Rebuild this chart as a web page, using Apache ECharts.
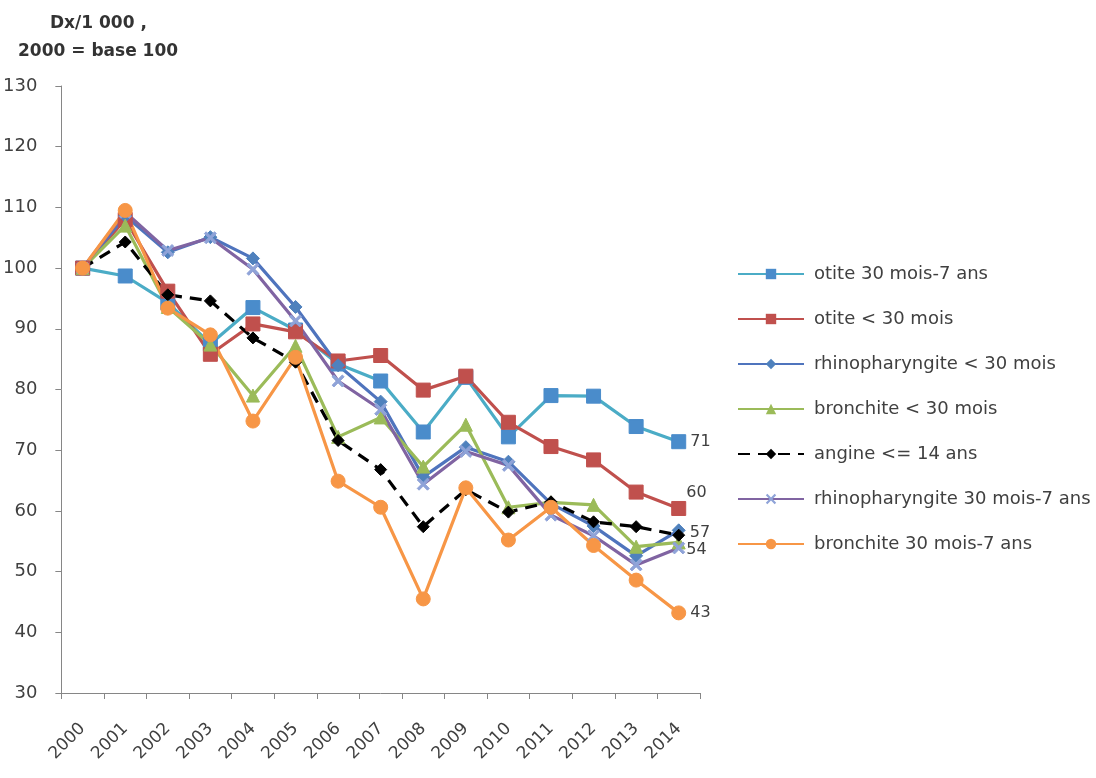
<!DOCTYPE html>
<html>
<head>
<meta charset="utf-8">
<script src="https://cdn.jsdelivr.net/npm/echarts@6/dist/echarts.min.js"></script>
<style>
  html, body { margin: 0; padding: 0; background: #fff; }
  #chart { width: 1096px; height: 778px; }
</style>
</head>
<body>
<div id="chart"></div>
<script>
// Years on the category axis
const years = ['2000','2001','2002','2003','2004','2005','2006','2007','2008','2009','2010','2011','2012','2013','2014'];

// Diagnoses per 1 000, indexed to 2000 = 100
const otite30m7a   = [100, 98.7, 94.3, 87.5, 93.5, 89.8, 84.2, 81.4, 73.0, 82.0, 72.2, 79.0, 78.9, 73.9, 71.4];
const otiteMoins30 = [100, 108.0, 96.2, 85.8, 90.8, 89.5, 84.7, 85.6, 79.9, 82.2, 74.6, 70.6, 68.4, 63.1, 60.4];
const rhinoMoins30 = [100, 108.6, 102.6, 105.1, 101.6, 93.6, 84.0, 78.0, 65.6, 70.5, 68.1, 61.2, 57.5, 52.6, 56.8];
const bronchMoins30 = [100, 107.0, 93.6, 87.4, 79.0, 87.2, 72.2, 75.4, 67.3, 74.2, 60.6, 61.4, 61.0, 54.1, 54.8];
const angine14     = [100, 104.3, 95.6, 94.6, 88.5, 84.5, 71.6, 66.8, 57.4, 63.5, 59.8, 61.5, 58.2, 57.4, 56.0];
const rhino30m7a   = [100, 109.2, 102.9, 105.0, 99.8, 91.3, 81.4, 76.7, 64.4, 69.8, 67.5, 59.3, 55.9, 51.1, 53.9];
const bronch30m7a  = [100, 109.5, 93.4, 89.0, 74.8, 85.3, 64.9, 60.6, 45.5, 63.8, 55.2, 60.6, 54.3, 48.6, 43.2];

// Y axis range and step
const yMin = 30, yMax = 130, yStep = 10;

const textColor = '#404040';
const fontFamily = '"DejaVu Sans", "Liberation Sans", sans-serif';
const crossSymbol = 'path://M0,1.5L1.5,0L5,3.5L8.5,0L10,1.5L6.5,5L10,8.5L8.5,10L5,6.5L1.5,10L0,8.5L3.5,5Z';

// Value label shown only at the last year
function endLabel(offset) {
  return {
    show: true,
    position: 'right',
    distance: 4,
    offset: offset,
    color: textColor,
    fontSize: 16,
    fontFamily: fontFamily,
    formatter: p => (p.dataIndex === years.length - 1 ? String(Math.round(p.value)) : '')
  };
}

function lineSeries(name, data, color, markerColor, symbol, size, opts) {
  return Object.assign({
    name: name,
    type: 'line',
    data: data,
    symbol: symbol,
    symbolSize: size,
    lineStyle: { color: color, width: 3.2 },
    itemStyle: { color: markerColor, borderColor: markerColor },
    emphasis: { disabled: true },
    animation: false
  }, opts || {});
}

const chart = echarts.init(document.getElementById('chart'), null, { renderer: 'canvas' });

chart.setOption({
  backgroundColor: '#ffffff',
  graphic: [
    { type: 'text', left: 50, top: 15, style: { text: 'Dx/1 000 ,', fill: '#333333', font: 'bold 17px "DejaVu Sans", "Liberation Sans"' } },
    { type: 'text', left: 18, top: 43, style: { text: '2000 = base 100', fill: '#333333', font: 'bold 17px "DejaVu Sans", "Liberation Sans"' } }
  ],
  grid: { left: 60, right: 396, top: 86, bottom: 85, containLabel: false },
  legend: {
    orient: 'vertical',
    left: 732,
    top: 260,
    itemWidth: 66,
    itemHeight: 13,
    itemGap: 27,
    textStyle: { color: textColor, fontSize: 18, fontFamily: fontFamily, padding: [0, 0, 0, 5] },
    data: ['otite 30 mois-7 ans', 'otite < 30 mois', 'rhinopharyngite < 30 mois', 'bronchite < 30 mois', 'angine <= 14 ans', 'rhinopharyngite 30 mois-7 ans', 'bronchite 30 mois-7 ans']
  },
  xAxis: {
    type: 'category',
    data: years,
    boundaryGap: true,
    axisLine: { lineStyle: { color: '#868686', width: 1 } },
    axisTick: { show: true, length: 6, lineStyle: { color: '#868686' } },
    axisLabel: { rotate: 45, color: textColor, fontSize: 17, fontFamily: fontFamily, margin: 33 },
    splitLine: { show: false }
  },
  yAxis: {
    type: 'value',
    min: yMin,
    max: yMax,
    interval: yStep,
    axisLine: { show: true, lineStyle: { color: '#868686', width: 1 } },
    axisTick: { show: true, length: 6, lineStyle: { color: '#868686' } },
    axisLabel: { color: textColor, fontSize: 18, fontFamily: fontFamily, margin: 24 },
    splitLine: { show: false }
  },
  series: [
    lineSeries('otite 30 mois-7 ans', otite30m7a, '#4BACC6', '#4A8CCB', 'rect', 14, { label: endLabel([0, 0]) }),
    lineSeries('otite < 30 mois', otiteMoins30, '#C0504D', '#C0504D', 'rect', 14, { label: endLabel([-4, -16]) }),
    lineSeries('rhinopharyngite < 30 mois', rhinoMoins30, '#4F74BD', '#4F81BD', 'diamond', 13, { label: endLabel([0, 3]) }),
    lineSeries('bronchite < 30 mois', bronchMoins30, '#9BBB59', '#9BBB59', 'triangle', 13),
    lineSeries('angine <= 14 ans', angine14, '#000000', '#000000', 'diamond', 12, {
      lineStyle: { color: '#000000', width: 3.2, type: [12, 8] }
    }),
    lineSeries('rhinopharyngite 30 mois-7 ans', rhino30m7a, '#8064A2', '#8064A2', crossSymbol, 12, {
      itemStyle: { color: '#8FA3D8', borderColor: '#8FA3D8' },
      label: endLabel([-3, 2])
    }),
    lineSeries('bronchite 30 mois-7 ans', bronch30m7a, '#F79646', '#F79646', 'circle', 14, { label: endLabel([0, 0]) })
  ]
});
</script>
</body>
</html>
